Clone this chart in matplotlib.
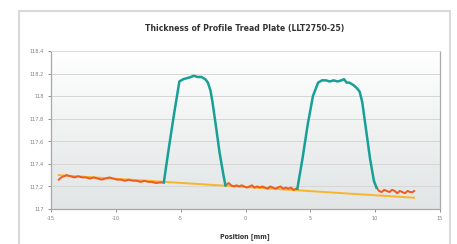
import numpy as np
import matplotlib
matplotlib.use('Agg')
import matplotlib.pyplot as plt
from matplotlib.patches import Rectangle

# profile readings, position [mm] / thickness
base1_x = [-14.4, -14.2, -14.0, -13.8, -13.5, -13.2, -12.9, -12.6, -12.3, -12.0, -11.7, -11.4, -11.1, -10.8,
           -10.5, -10.2, -9.9, -9.6, -9.3, -9.0, -8.7, -8.4, -8.1, -7.8, -7.5, -7.2, -6.9, -6.6, -6.3]
base1_y = [117.26, 117.28, 117.29, 117.30, 117.29, 117.28, 117.29, 117.28, 117.28, 117.27, 117.28, 117.27, 117.26, 117.27,
           117.28, 117.27, 117.26, 117.26, 117.25, 117.26, 117.25, 117.25, 117.24, 117.25, 117.24, 117.24, 117.23, 117.235, 117.235]

rib1_x = [-6.3, -5.9, -5.5, -5.1, -4.8, -4.5, -4.2, -4.0, -3.7, -3.4, -3.1, -2.9, -2.7, -2.55, -2.3, -2.0, -1.7, -1.55]
rib1_y = [117.235, 117.55, 117.85, 118.13, 118.15, 118.16, 118.17, 118.18, 118.17, 118.17, 118.15, 118.12, 118.05, 117.95,
          117.75, 117.5, 117.3, 117.21]

base2_x = [-1.55, -1.3, -1.1, -0.9, -0.7, -0.5, -0.3, -0.1, 0.1, 0.3, 0.5, 0.7, 0.9, 1.1, 1.3, 1.5, 1.7, 1.9,
           2.1, 2.3, 2.5, 2.7, 2.9, 3.1, 3.3, 3.5, 3.7, 3.9, 4.0]
base2_y = [117.21, 117.23, 117.21, 117.20, 117.21, 117.20, 117.21, 117.20, 117.19, 117.20, 117.21, 117.19, 117.20, 117.19,
           117.20, 117.19, 117.18, 117.20, 117.19, 117.18, 117.19, 117.20, 117.18, 117.19, 117.18, 117.19, 117.17, 117.18, 117.18]

rib2_x = [4.0, 4.4, 4.8, 5.2, 5.6, 5.9, 6.2, 6.5, 6.8, 7.1, 7.4, 7.6, 7.8, 8.0, 8.3, 8.6, 8.8, 9.0, 9.3, 9.6, 9.9, 10.1]
rib2_y = [117.18, 117.45, 117.75, 118.0, 118.12, 118.14, 118.14, 118.13, 118.14, 118.13, 118.14, 118.15, 118.12, 118.12,
          118.10, 118.07, 118.04, 117.95, 117.7, 117.45, 117.25, 117.19]

base3_x = [10.1, 10.3, 10.5, 10.7, 10.9, 11.1, 11.3, 11.5, 11.7, 11.9, 12.1, 12.3, 12.5, 12.7, 12.9, 13.0]
base3_y = [117.19, 117.16, 117.15, 117.17, 117.16, 117.15, 117.17, 117.16, 117.14, 117.16, 117.15, 117.14, 117.16,
           117.15, 117.15, 117.16]

fit_x = [-14.4, 13.0]
fit_y = [117.30, 117.10]

yticks = [117.0, 117.2, 117.4, 117.6, 117.8, 118.0, 118.2, 118.4]
xticks = [-15, -10, -5, 0, 5, 10, 15]

fig = plt.figure(figsize=(4.57, 2.44), dpi=100)
fig.patches.append(Rectangle((19/457, -0.1), 431/457, 1.1 - 11/244, transform=fig.transFigure,
                             fill=False, edgecolor='#d9d9d9', linewidth=1.5))
ax = fig.add_axes([51/457, 1 - 209/244, 389/457, 158/244])

# background gradient
grad = np.linspace(1, 0, 256).reshape(-1, 1)
ax.imshow(grad, extent=[-15, 15, 117, 118.4], aspect='auto', cmap=matplotlib.colors.LinearSegmentedColormap.from_list(
    'bg', ['#e1e5e5', '#ffffff']), zorder=0, interpolation='bicubic')

for v in yticks:
    ax.axhline(v, color='#d6d6d6', linewidth=0.7, zorder=1)

ax.plot(fit_x, fit_y, color='#f7b52c', linewidth=1.4, zorder=2)
for xs, ys in [(base1_x, base1_y), (base2_x, base2_y), (base3_x, base3_y)]:
    ax.plot(xs, ys, color='#f05a1e', linewidth=1.4, zorder=3)
for xs, ys in [(rib1_x, rib1_y), (rib2_x, rib2_y)]:
    ax.plot(xs, ys, color='#16a096', linewidth=1.8, zorder=4, solid_joinstyle='round')

ax.set_xlim(-15, 15)
ax.set_ylim(117, 118.4)
ax.set_xticks(xticks)
ax.set_yticks(yticks)
ax.set_xticklabels([str(t) for t in xticks])
ax.set_yticklabels([('%g' % t).replace('.', ',') for t in yticks])
ax.tick_params(labelsize=3.6, colors='#808080', length=2, width=0.6, pad=3)
for s in ['left', 'bottom', 'right']:
    ax.spines[s].set_color('#a8a8a8')
    ax.spines[s].set_linewidth(0.9)
ax.spines['top'].set_color('#dddddd')
ax.spines['top'].set_linewidth(0.7)

fig.text(0.535, 1 - 29/244, 'Thickness of Profile Tread Plate (LLT2750-25)', ha='center', va='center',
         fontsize=6.2, fontweight='bold', color='#333333', fontstretch='condensed')
fig.text(0.535, 1 - 237/244, 'Position [mm]', ha='center', va='center',
         fontsize=5, fontweight='bold', color='#333333', fontstretch='condensed')

fig.savefig('out.png', dpi=100)
